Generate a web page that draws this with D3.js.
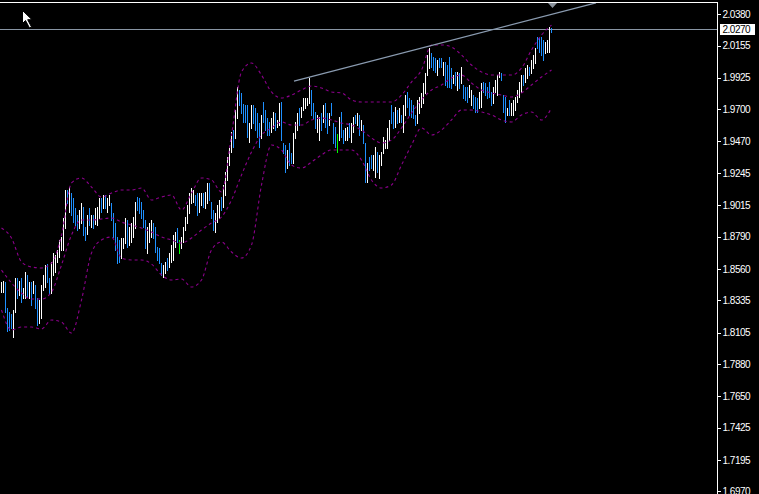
<!DOCTYPE html>
<html><head><meta charset="utf-8">
<script src="https://cdn.jsdelivr.net/npm/d3@7"></script>
<style>html,body{margin:0;padding:0;background:#000;overflow:hidden}</style>
</head><body>
<svg id="c" width="759" height="494"></svg>
<script>
// ---- DATA ----
const tickLabels = ["2.0380","2.0155","1.9925","1.9700","1.9470","1.9245","1.9015","1.8790","1.8560","1.8335","1.8105","1.7880","1.7650","1.7425","1.7195","1.6970"];
const currentPrice = 2.0270;
const highs = [
1.8466,1.8473,1.8466,1.8280,1.8251,1.8237,1.8266,1.8494,1.8494,1.8473,
1.8494,1.8423,1.8537,1.8516,1.8466,1.8466,1.8473,1.8444,1.8351,1.8337,
1.8444,1.8516,1.8587,1.8594,1.8494,1.8609,1.8673,1.8659,1.8694,1.8766,
1.8787,1.8923,1.9123,1.9123,1.9144,1.9101,1.9066,1.8994,1.8944,1.8980,
1.9030,1.9001,1.8859,1.8944,1.8994,1.8944,1.8944,1.8994,1.9001,1.9066,
1.9066,1.9087,1.9087,1.9066,1.9087,1.9030,1.8959,1.8887,1.8787,1.8766,
1.8780,1.8780,1.8923,1.8909,1.8859,1.8887,1.8930,1.9037,1.9073,1.9066,
1.9037,1.8980,1.8909,1.8859,1.8887,1.8909,1.8887,1.8859,1.8716,1.8709,
1.8601,1.8587,1.8609,1.8637,1.8673,1.8730,1.8801,1.8823,1.8851,1.8766,
1.8787,1.8859,1.8930,1.9016,1.9101,1.9137,1.9123,1.9087,1.9101,1.9101,
1.9101,1.9101,1.9109,1.9173,1.9173,1.9037,1.8980,1.8959,1.9016,1.9051,
1.9073,1.9159,1.9251,1.9359,1.9423,1.9537,1.9551,1.9694,1.9859,1.9837,
1.9816,1.9737,1.9730,1.9730,1.9601,1.9730,1.9730,1.9709,1.9673,1.9601,
1.9659,1.9751,1.9694,1.9637,1.9609,1.9637,1.9680,1.9673,1.9623,1.9744,
1.9751,1.9459,1.9444,1.9409,1.9459,1.9387,1.9530,1.9609,1.9673,1.9709,
1.9716,1.9780,1.9780,1.9780,1.9923,1.9837,1.9744,1.9680,1.9659,1.9644,
1.9673,1.9730,1.9744,1.9673,1.9673,1.9744,1.9601,1.9573,1.9523,1.9644,
1.9680,1.9551,1.9566,1.9573,1.9601,1.9601,1.9644,1.9659,1.9673,1.9659,
1.9623,1.9587,1.9459,1.9316,1.9359,1.9373,1.9373,1.9430,1.9394,1.9373,
1.9394,1.9501,1.9480,1.9566,1.9623,1.9730,1.9680,1.9716,1.9694,1.9709,
1.9659,1.9730,1.9801,1.9823,1.9780,1.9766,1.9730,1.9659,1.9766,1.9787,
1.9816,1.9887,1.9959,2.0087,2.0137,2.0101,2.0073,2.0066,2.0051,2.0066,
2.0066,2.0037,2.0037,2.0016,2.0073,1.9994,1.9944,1.9966,1.9966,1.9959,
2.0001,1.9873,1.9859,1.9859,1.9873,1.9837,1.9801,1.9787,1.9780,1.9823,
1.9887,1.9894,1.9887,1.9859,1.9894,1.9823,1.9859,1.9909,1.9944,1.9966,
1.9959,1.9801,1.9787,1.9709,1.9766,1.9744,1.9766,1.9787,1.9837,1.9894,
1.9944,1.9944,1.9994,2.0016,2.0001,2.0051,2.0087,2.0137,2.0216,2.0209,
2.0216,2.0194,2.0180,2.0194,2.0287,2.0280];
const lows = [
1.8394,1.8394,1.8251,1.8116,1.8123,1.8137,1.8073,1.8251,1.8351,1.8373,
1.8323,1.8351,1.8351,1.8359,1.8351,1.8301,1.8387,1.8280,1.8159,1.8173,
1.8209,1.8409,1.8430,1.8466,1.8380,1.8387,1.8516,1.8537,1.8609,1.8644,
1.8694,1.8694,1.8851,1.9030,1.8966,1.8944,1.8894,1.8873,1.8837,1.8851,
1.8887,1.8801,1.8766,1.8809,1.8873,1.8859,1.8851,1.8880,1.8873,1.8923,
1.8966,1.8994,1.8994,1.8966,1.9016,1.8909,1.8787,1.8694,1.8601,1.8609,
1.8637,1.8709,1.8744,1.8716,1.8730,1.8751,1.8787,1.8851,1.8980,1.8959,
1.8923,1.8859,1.8709,1.8673,1.8751,1.8787,1.8780,1.8680,1.8623,1.8601,
1.8516,1.8501,1.8530,1.8551,1.8573,1.8609,1.8623,1.8716,1.8751,1.8673,
1.8709,1.8751,1.8837,1.8887,1.8959,1.9030,1.9037,1.9016,1.8944,1.8966,
1.9016,1.9001,1.8994,1.9030,1.9051,1.8923,1.8837,1.8823,1.8894,1.8923,
1.8980,1.9001,1.9087,1.9194,1.9301,1.9394,1.9430,1.9494,1.9637,1.9730,
1.9673,1.9609,1.9609,1.9501,1.9466,1.9566,1.9601,1.9551,1.9501,1.9430,
1.9494,1.9609,1.9551,1.9516,1.9516,1.9537,1.9566,1.9551,1.9573,1.9587,
1.9480,1.9387,1.9251,1.9280,1.9301,1.9316,1.9316,1.9494,1.9551,1.9587,
1.9644,1.9694,1.9709,1.9730,1.9744,1.9659,1.9637,1.9566,1.9537,1.9480,
1.9551,1.9609,1.9573,1.9530,1.9587,1.9659,1.9459,1.9430,1.9394,1.9480,
1.9501,1.9459,1.9480,1.9480,1.9501,1.9466,1.9537,1.9601,1.9587,1.9516,
1.9551,1.9459,1.9180,1.9180,1.9266,1.9280,1.9266,1.9216,1.9251,1.9209,
1.9301,1.9387,1.9423,1.9423,1.9480,1.9601,1.9566,1.9573,1.9601,1.9609,
1.9609,1.9537,1.9659,1.9716,1.9659,1.9644,1.9637,1.9587,1.9601,1.9673,
1.9716,1.9744,1.9816,1.9944,1.9994,2.0001,1.9980,1.9966,1.9944,2.0001,
2.0001,1.9944,1.9873,1.9859,1.9859,1.9851,1.9887,1.9873,1.9837,1.9851,
1.9887,1.9780,1.9766,1.9751,1.9787,1.9730,1.9709,1.9680,1.9680,1.9709,
1.9716,1.9823,1.9801,1.9780,1.9787,1.9730,1.9744,1.9823,1.9801,1.9930,
1.9909,1.9680,1.9609,1.9659,1.9659,1.9659,1.9659,1.9694,1.9751,1.9787,
1.9823,1.9873,1.9894,1.9923,1.9944,1.9959,1.9994,2.0030,2.0137,2.0109,
2.0087,2.0051,2.0101,2.0109,2.0109,2.0251];
// u = bull (white), d = bear (blue), g = highlighted (green)
const dirs = ("uudddduudu"+"duudududdu"+"uuudduuuuu"+"uuududdddu"+"uddududuuu"+
 "duduuddddd"+"uuuduuuudd"+"ddduuudddd"+"duuduuuudg"+"uuuuuuuddu"+
 "uduuddduuu"+"duuuuuduud"+"dddduudddd"+"udddduuduu"+"dddudduuud"+
 "uuuuuddduu"+"duddudddgu"+"dduuduudud"+"uddudduudu"+"uuuuuddudu"+
 "duuddddduu"+"uuuuudddud"+"duddddudud"+"uddduudddu"+"uddddduuuu"+
 "ddduduuuuu"+"uduuduuudd"+"dduuud").split("");
const bandIdx = d3.range(0, 276, 5);
const bbUpper = [
1.8851,1.8780,1.8609,1.8573,1.8566,1.8601,1.8801,1.9173,1.9209,1.9144,
1.9073,1.9101,1.9123,1.9123,1.9137,1.9051,1.9073,1.9087,1.8980,1.9101,
1.9209,1.9194,1.9109,1.9516,1.9966,2.0030,1.9944,1.9823,1.9780,1.9801,
1.9837,1.9866,1.9851,1.9823,1.9816,1.9766,1.9751,1.9751,1.9751,1.9751,
1.9801,1.9894,1.9980,2.0159,2.0159,2.0144,2.0087,2.0016,1.9966,1.9944,
1.9944,1.9944,1.9994,2.0123,2.0230,2.0301];
const bbMiddle = [
1.8551,1.8459,1.8387,1.8344,1.8344,1.8394,1.8587,1.8801,1.8909,1.8909,
1.8916,1.8923,1.8894,1.8873,1.8851,1.8823,1.8787,1.8766,1.8744,1.8780,
1.8837,1.8887,1.8930,1.9051,1.9230,1.9394,1.9516,1.9566,1.9609,1.9587,
1.9587,1.9623,1.9637,1.9623,1.9601,1.9587,1.9551,1.9494,1.9459,1.9480,
1.9566,1.9673,1.9766,1.9837,1.9873,1.9923,1.9944,1.9887,1.9837,1.9816,
1.9801,1.9787,1.9816,1.9873,1.9930,1.9980];
const bbLower = [
1.8266,1.8123,1.8144,1.8144,1.8130,1.8194,1.8180,1.8101,1.8337,1.8673,
1.8766,1.8787,1.8637,1.8623,1.8623,1.8594,1.8516,1.8480,1.8487,1.8430,
1.8480,1.8694,1.8751,1.8680,1.8637,1.8730,1.9159,1.9444,1.9409,1.9301,
1.9280,1.9323,1.9373,1.9409,1.9409,1.9409,1.9337,1.9194,1.9137,1.9159,
1.9301,1.9444,1.9566,1.9516,1.9551,1.9623,1.9694,1.9694,1.9680,1.9659,
1.9623,1.9609,1.9659,1.9680,1.9623,1.9709];
const trendIdx = [146.5, 297.5];
const trendPrice = [1.9901, 2.0459];
const markerIdx = 275.75;

// ---- DRAW ----
const W = 759, H = 494, axisX = 717;
const svg = d3.select("#c");
svg.append("rect").attr("width", W).attr("height", H).attr("fill", "#000");
const y = d3.scaleLinear().domain([1.6970, 2.0380]).range([491.4, 14]);
const x = d3.scaleLinear().domain([0, 275]).range([1, 551]);
const colorMap = {u: "#ffffff", d: "#1e90ff", g: "#00ff00"};

const plot = svg.append("g");
plot.append("line").attr("x1", 0).attr("x2", axisX)
  .attr("y1", Math.round(y(currentPrice)) + 0.5).attr("y2", Math.round(y(currentPrice)) + 0.5)
  .attr("stroke", "#8895a4").attr("stroke-width", 1);

plot.append("g").selectAll("rect").data(highs).join("rect")
  .attr("x", (d, i) => Math.round(x(i)))
  .attr("width", 1)
  .attr("y", (d) => Math.round(y(d)))
  .attr("height", (d, i) => Math.max(1, Math.round(y(lows[i])) - Math.round(y(d)) + 1))
  .attr("fill", (d, i) => colorMap[dirs[i]])
  .attr("shape-rendering", "crispEdges");

const line = d3.line().x((d, k) => x(bandIdx[k]) + 0.5).y(d => y(d)).curve(d3.curveMonotoneX);
[bbUpper, bbMiddle, bbLower].forEach(arr => {
  plot.append("path").attr("d", line(arr)).attr("fill", "none")
    .attr("stroke", "#8b008b").attr("stroke-width", 1.1).attr("stroke-dasharray", "3,3");
});

plot.append("line")
  .attr("x1", x(trendIdx[0])).attr("y1", y(trendPrice[0]))
  .attr("x2", x(trendIdx[1])).attr("y2", y(trendPrice[1]))
  .attr("stroke", "#8a9bb0").attr("stroke-width", 1.2);

const mx = x(markerIdx);
svg.append("path").attr("d", `M${mx-4.5},3 L${mx+4.5},3 L${mx},8 Z`).attr("fill", "#8a929c");

svg.append("line").attr("x1", 0).attr("x2", axisX + 0.5).attr("y1", 2.5).attr("y2", 2.5)
  .attr("stroke", "#fff").attr("stroke-width", 1);
svg.append("line").attr("x1", axisX + 0.5).attr("x2", axisX + 0.5).attr("y1", 2).attr("y2", H)
  .attr("stroke", "#fff").attr("stroke-width", 1);

const axis = d3.axisRight(y).tickValues(tickLabels.map(Number))
  .tickFormat(d3.format(".4f")).tickSize(3).tickPadding(2);
const ag = svg.append("g").attr("transform", `translate(${axisX + 0.5},0)`).call(axis);
ag.select(".domain").remove();
ag.selectAll(".tick line").attr("stroke", "#fff").attr("shape-rendering", "crispEdges");
ag.selectAll(".tick text").attr("fill", "#fff")
  .style("font-family", "'Liberation Sans', Arial, sans-serif").style("font-size", "10px")
  .style("letter-spacing", "-0.5px");

const cy = y(currentPrice);
svg.append("rect").attr("x", 720).attr("y", Math.round(cy) - 5).attr("width", 35).attr("height", 11).attr("fill", "#fff");
svg.append("text").attr("x", 722.5).attr("y", cy + 3.8).text(d3.format(".4f")(currentPrice))
  .attr("fill", "#000").style("font-family", "'Liberation Sans', Arial, sans-serif")
  .style("font-size", "10px").style("letter-spacing", "-0.5px");

svg.append("path").attr("transform", "translate(22.5,10.5)")
  .attr("d", "M0,0 L0,13 L3,10 L7,17.5 L9,16.5 L5.2,9.2 L9.5,9.2 Z")
  .attr("fill", "#fff").attr("stroke", "#000").attr("stroke-width", 1);
</script>
</body></html>
